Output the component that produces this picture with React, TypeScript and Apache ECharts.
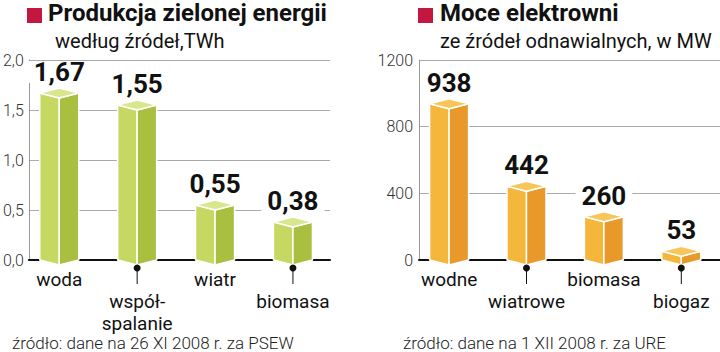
import React, { useEffect, useRef } from "react";
import * as echarts from "echarts";

const leftCategories = ["woda", "współ-\nspalanie", "wiatr", "biomasa"];
const leftValues = [1.67, 1.55, 0.55, 0.38];
const rightCategories = ["wodne", "wiatrowe", "biomasa", "biogaz"];
const rightValues = [938, 442, 260, 53];

const leftTitle = "Produkcja zielonej energii";
const leftSubtitle = "według źródeł,TWh";
const leftSource = "źródło: dane na 26 XI 2008 r. za PSEW";
const rightTitle = "Moce elektrowni";
const rightSubtitle = "ze źródeł odnawialnych, w MW";
const rightSource = "źródło: dane na 1 XII 2008 r. za URE";

const FONT = "Roboto, 'Noto Sans', sans-serif";

const GREEN = { left: "#c6d862", right: "#a9bf3f", top: "#dae68e" };
const ORANGE = { left: "#f5b63c", right: "#e8992a", top: "#f8c658" };

function makeRender(colors: any, fmt: (v: number) => string) {
  return (params: any, api: any) => {
    const idx = api.value(0);
    const val = api.value(1);
    const base = api.coord([idx, 0]);
    const top = api.coord([idx, val]);
    const cx = base[0];
    const hw = 19.5;
    const d = 5;
    const y0 = base[1];
    const y1 = top[1];
    const stroke = { stroke: "#ffffff", lineWidth: 1.5, lineJoin: "round" };
    const children: any[] = [
      {
        type: "polygon",
        shape: { points: [[cx - hw, y1], [cx, y1 + d], [cx, y0 + d], [cx - hw, y0]] },
        style: { fill: colors.left, ...stroke },
      },
      {
        type: "polygon",
        shape: { points: [[cx, y1 + d], [cx + hw, y1], [cx + hw, y0], [cx, y0 + d]] },
        style: { fill: colors.right, ...stroke },
      },
      {
        type: "polygon",
        shape: { points: [[cx - hw, y1], [cx, y1 - d], [cx + hw, y1], [cx, y1 + d]] },
        style: { fill: colors.top, ...stroke },
      },
      {
        type: "text",
        x: cx,
        y: y1 - 21,
        style: {
          text: fmt(val),
          fontFamily: FONT,
          fontWeight: "bold",
          fontSize: 26,
          fill: "#111",
          align: "center",
          verticalAlign: "middle",
          backgroundColor: "#ffffff",
          padding: [0, 6],
          lineHeight: 22,
        },
      },
    ];
    if (params.dataIndex % 2 === 1) {
      children.push({
        type: "line",
        shape: { x1: cx, y1: y0 + 8, x2: cx, y2: y0 + 24 },
        style: { stroke: "#111", lineWidth: 1 },
      });
      children.push({
        type: "circle",
        shape: { cx: cx, cy: y0 + 8, r: 3.5 },
        style: { fill: "#111" },
      });
    }
    return { type: "group", children };
  };
}

const catLabel = {
  interval: 0,
  margin: 8,
  fontFamily: FONT,
  fontSize: 19,
  lineHeight: 22,
  color: "#111",
  formatter: (v: string, i: number) => (i % 2 === 1 ? "\n" + v : v),
};

function titleBlock(x: number, tx: number, sx: number, title: string, sub: string) {
  return [
    { type: "rect", left: x, top: 8, shape: { width: 15, height: 15 }, style: { fill: "#c4173f" } },
    {
      type: "text",
      left: tx,
      top: 1,
      style: { text: title, fontFamily: FONT, fontWeight: "bold", fontSize: 24, fill: "#111" },
    },
    {
      type: "text",
      left: sx,
      top: 31,
      style: { text: sub, fontFamily: FONT, fontSize: 20, fill: "#111" },
    },
  ];
}

export default function App() {
  const ref = useRef<HTMLDivElement>(null);
  useEffect(() => {
    const chart = echarts.init(ref.current!, null, { renderer: "svg" });
    const yLabel = { fontFamily: FONT, fontWeight: 300, fontSize: 16, color: "#333" };
    chart.setOption({
      animation: false,
      backgroundColor: "#ffffff",
      grid: [
        { left: 28, top: 60, width: 302, height: 200 },
        { left: 20.3, top: 60, width: 311.6, height: 200 },
        { left: 419, top: 60, width: 301, height: 200 },
        { left: 410.4, top: 60, width: 313.6, height: 200 },
      ],
      xAxis: [
        {
          gridIndex: 0, type: "value", min: 0, max: 1,
          axisLine: { show: true, lineStyle: { color: "#111", width: 2 } },
          axisTick: { show: false }, axisLabel: { show: false }, splitLine: { show: false },
        },
        {
          gridIndex: 1, type: "category", data: leftCategories,
          axisLine: { show: false }, axisTick: { show: false }, axisLabel: catLabel,
        },
        {
          gridIndex: 2, type: "value", min: 0, max: 1,
          axisLine: { show: true, lineStyle: { color: "#111", width: 2 } },
          axisTick: { show: false }, axisLabel: { show: false }, splitLine: { show: false },
        },
        {
          gridIndex: 3, type: "category", data: rightCategories,
          axisLine: { show: false }, axisTick: { show: false }, axisLabel: catLabel,
        },
      ],
      yAxis: [
        {
          gridIndex: 0, type: "value", min: 0, max: 2, interval: 0.5,
          axisLine: { show: true, lineStyle: { color: "#999", width: 1 } },
          axisTick: { show: false },
          splitLine: { lineStyle: { color: "#aaa", width: 1 } },
          axisLabel: { ...yLabel, margin: 5, formatter: (v: number) => v.toFixed(1).replace(".", ",") },
        },
        { gridIndex: 1, type: "value", min: 0, max: 2, show: false },
        {
          gridIndex: 2, type: "value", min: 0, max: 1200, interval: 400,
          axisLine: { show: true, lineStyle: { color: "#999", width: 1 } },
          axisTick: { show: false },
          splitLine: { lineStyle: { color: "#aaa", width: 1 } },
          axisLabel: { ...yLabel, margin: 6, formatter: (v: number) => String(v) },
        },
        { gridIndex: 3, type: "value", min: 0, max: 1200, show: false },
      ],
      series: [
        {
          type: "custom",
          xAxisIndex: 1,
          yAxisIndex: 1,
          data: leftValues.map((v, i) => [i, v]),
          encode: { x: 0, y: 1 },
          renderItem: makeRender(GREEN, (v) => v.toFixed(2).replace(".", ",")),
          clip: false,
        },
        {
          type: "custom",
          xAxisIndex: 3,
          yAxisIndex: 3,
          data: rightValues.map((v, i) => [i, v]),
          encode: { x: 0, y: 1 },
          renderItem: makeRender(ORANGE, (v) => String(v)),
          clip: false,
        },
      ],
      graphic: [
        ...titleBlock(27, 48, 55, leftTitle, leftSubtitle),
        ...titleBlock(418, 440, 440, rightTitle, rightSubtitle),
        {
          type: "text", left: 12, top: 334,
          style: { text: leftSource, fontFamily: FONT, fontWeight: 300, fontSize: 17, fill: "#222" },
        },
        {
          type: "text", left: 403, top: 334,
          style: { text: rightSource, fontFamily: FONT, fontWeight: 300, fontSize: 17, fill: "#222" },
        },
      ],
    });
    return () => chart.dispose();
  }, []);
  return <div ref={ref} style={{ position: "absolute", left: 0, top: 0, width: 720, height: 352 }} />;
}
